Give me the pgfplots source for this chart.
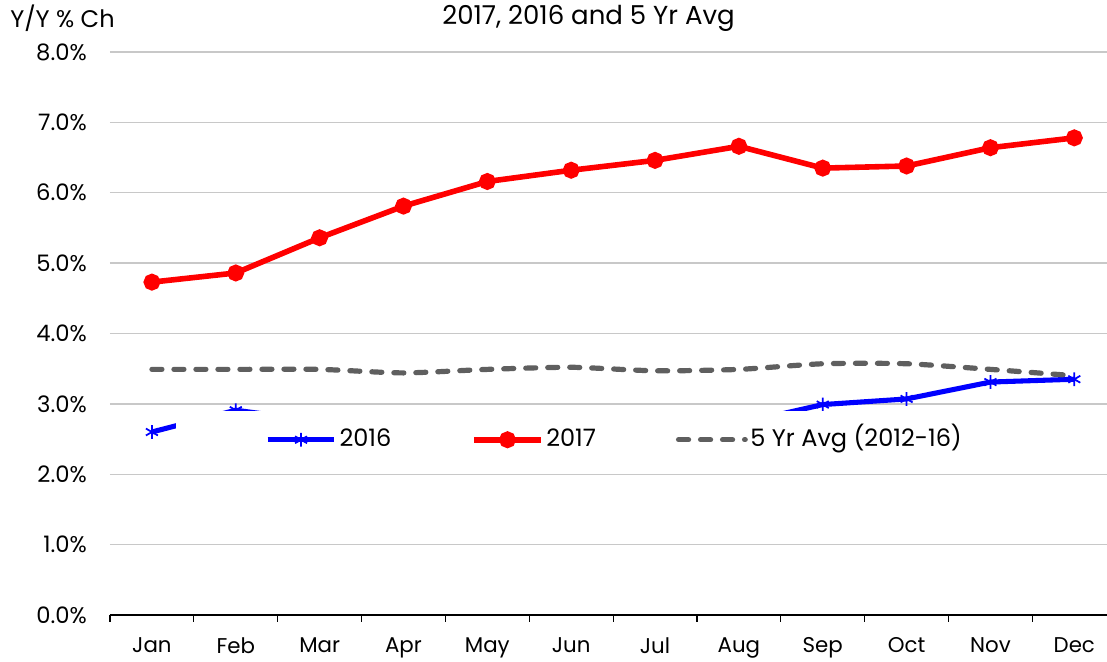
\documentclass[border=0pt]{standalone}
\usepackage{pgfplots}
\pgfplotsset{compat=1.18}
\usepackage{fontspec}
\setmainfont{Poppins}
\definecolor{gridc}{RGB}{200,200,200}
\definecolor{avgc}{RGB}{95,95,95}
\pgfplotsset{widelegend/.style={legend image code/.code={\path (-58pt,0pt); \draw[mark repeat=2,mark phase=2,##1] plot coordinates {(0pt,0pt) (25pt,0pt) (50pt,0pt)};}}}
\begin{document}
\fontsize{17}{20}\selectfont
\begin{tikzpicture}
\begin{axis}[
  name=ax,
  scale only axis,
  width=747.75pt, height=422.25pt,
  xmin=-0.5, xmax=11.39,
  ymin=0, ymax=8,
  axis lines*=left,
  y axis line style={draw=none},
  x axis line style={black, line width=1.1pt},
  ytick={0,1,...,8},
  ytick style={draw=none},
  ymajorgrids,
  grid style={gridc, line width=1pt},
  yticklabel={\pgfmathprintnumber[fixed,fixed zerofill,precision=1]{\tick}\%},
  yticklabel style={inner sep=0pt, xshift=-13pt, anchor=east, font=\fontsize{17}{20}\selectfont},
  xtick={0,1,...,11},
  xticklabels={Jan,Feb,Mar,Apr,May,Jun,Jul,Aug,Sep,Oct,Nov,Dec},
  major x tick style={draw=none},
  minor xtick={-0.5,0.5,...,10.5},
  minor x tick style={black, line width=0.9pt},
  minor tick length=5pt,
  tick align=outside,
  xticklabel style={inner sep=0pt, anchor=north, yshift=-12.5pt, font=\fontsize{16}{19}\selectfont},
  /pgf/number format/assume math mode=true,
  clip=false,
  legend columns=3,
  legend style={at={(axis cs:5.06,2.49)}, anchor=center, draw=none, fill=white,
    inner xsep=9pt, inner ysep=11pt,
    font=\fontsize{18}{21}\selectfont,
    /tikz/every even column/.append style={column sep=58pt},
    nodes={inner sep=2pt, text height=13pt, text depth=3.5pt}},
  legend image code/.code={\draw[mark repeat=2,mark phase=2,#1] plot coordinates {(0pt,0pt) (25pt,0pt) (50pt,0pt)};},
]
\addplot[blue, line width=3.8pt, mark=asterisk, mark size=5.2pt, mark options={line width=1.3pt, solid}, widelegend]
 coordinates {(0,2.60) (1,2.91) (2,2.75) (3,2.70) (4,2.72) (5,2.65) (6,2.70) (7,2.72) (8,2.99) (9,3.07) (10,3.31) (11,3.35)};
\addlegendentry{2016}
\addplot[red, line width=4.2pt, mark=*, mark size=4.2pt, mark options={solid}]
 coordinates {(0,4.73) (1,4.86) (2,5.36) (3,5.81) (4,6.16) (5,6.32) (6,6.46) (7,6.66) (8,6.35) (9,6.38) (10,6.64) (11,6.78)};
\addlegendentry{2017}
\addplot[avgc, line width=3.9pt, smooth, tension=0.4, line cap=round, dash pattern=on 7.5pt off 9pt]
 coordinates {(0,3.49) (1,3.49) (2,3.49) (3,3.44) (4,3.49) (5,3.52) (6,3.47) (7,3.49) (8,3.57) (9,3.57) (10,3.49) (11,3.40)};
\addlegendentry{5 Yr Avg (2012-16)}
\node[anchor=center, font=\fontsize{19.5}{23}\selectfont] at (axis description cs:0.48,1) [yshift=25.5pt] {2017, 2016 and 5 Yr Avg};
\node[anchor=west, inner sep=0pt, font=\fontsize{18}{21}\selectfont] at (axis description cs:-0.1003,1) [yshift=25.5pt] {Y/Y \% Ch};
\end{axis}
\pgfresetboundingbox
\path[use as bounding box] ([xshift=-82.5pt,yshift=-35.25pt]ax.south west) rectangle ([yshift=39pt]ax.north east);
\end{tikzpicture}
\end{document}
